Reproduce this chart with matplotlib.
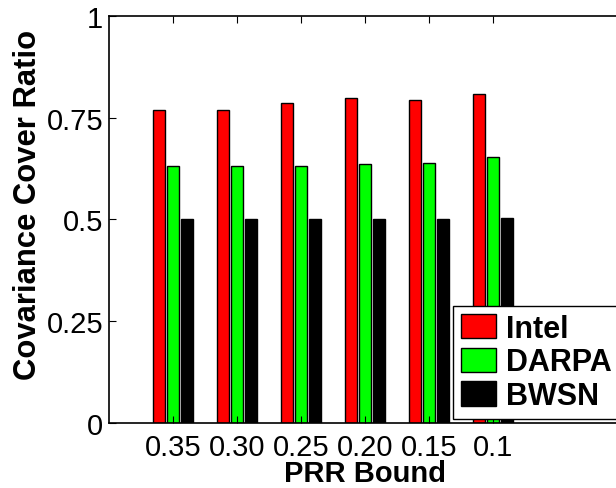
import matplotlib.pyplot as plt
import numpy as np

plt.rcParams['font.family'] = ['Liberation Sans', 'DejaVu Sans']

prr_labels = ['0.35', '0.30', '0.25', '0.20', '0.15', '0.1']
intel = [0.769, 0.769, 0.786, 0.797, 0.792, 0.807]
darpa = [0.631, 0.630, 0.632, 0.637, 0.639, 0.652]
bwsn = [0.500, 0.500, 0.500, 0.500, 0.500, 0.503]
series_names = ['Intel', 'DARPA', 'BWSN']
series_colors = ['#ff0000', '#00ff00', '#000000']

fig = plt.figure(figsize=(6.16, 4.89), dpi=100)
ax = fig.add_axes([108.7 / 616, 65 / 489, 512 / 616, 407.3 / 489])

x = np.arange(1, len(prr_labels) + 1)
offsets = [-0.22, 0.0, 0.22]
width = 0.185
for vals, off, name, col in zip([intel, darpa, bwsn], offsets, series_names, series_colors):
    ax.bar(x + off, vals, width, color=col, edgecolor='black', linewidth=1.0, label=name)

ax.set_xlim(0, 8)
ax.set_ylim(0, 1)
ax.set_xticks(x)
ax.set_xticklabels(prr_labels)
ax.set_yticks([0, 0.25, 0.5, 0.75, 1])
ax.set_yticklabels(['0', '0.25', '0.5', '0.75', '1'])
ax.tick_params(direction='in', length=5, width=0.8, labelsize=21, top=True, right=False)
ax.tick_params(axis='x', pad=7)
ax.tick_params(axis='y', pad=4)
for s in ax.spines.values():
    s.set_linewidth(1.2)

ax.set_xlabel('PRR Bound', fontsize=21, fontweight='bold', labelpad=-1.5)
ax.set_ylabel('Covariance Cover Ratio', fontsize=22.3, fontweight='bold')
ax.yaxis.set_label_coords(-0.128, 0.538)

leg = ax.legend(loc='upper left', bbox_to_anchor=(453 / 616, 1 - 307 / 489),
                bbox_transform=fig.transFigure, borderaxespad=0, fancybox=False,
                edgecolor='black', framealpha=1, prop={'size': 22, 'weight': 'bold'},
                handlelength=1.15, handleheight=0.85, labelspacing=0.12,
                handletextpad=0.35, borderpad=0.25)
leg.get_frame().set_linewidth(1.0)

fig.savefig('out.png', dpi=100)
